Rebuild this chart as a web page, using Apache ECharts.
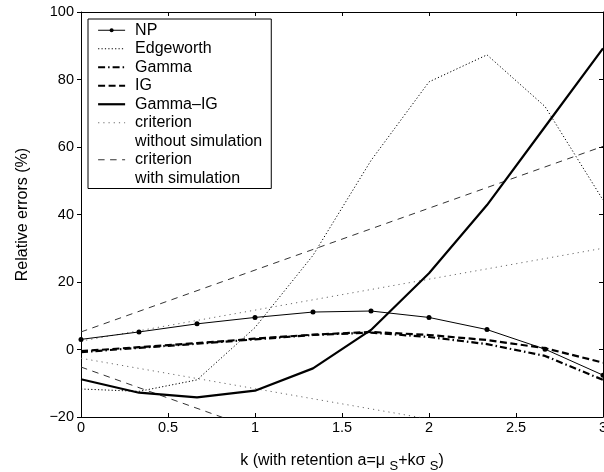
<!DOCTYPE html>
<html><head><meta charset="utf-8">
<script src="https://cdn.jsdelivr.net/npm/echarts@6/dist/echarts.min.js"></script>
<style>html,body{margin:0;padding:0;background:#fff}#c{width:604px;height:472px}</style>
</head><body><div id="c"></div>
<script>
// ---- data ----
const kValues = [0, 0.3333, 0.6667, 1, 1.3333, 1.6667, 2, 2.3333, 2.6667, 3];
const npErr = [3.0, 5.2, 7.6, 9.5, 11.1, 11.4, 9.5, 5.9, 0.1, -7.6];
const edgeworthErr = [-11.7, -12.4, -9.0, 6.5, 27.9, 56.0, 79.3, 87.3, 72.0, 44.3];
const gammaErr = [-0.8, 0.5, 1.7, 3.0, 4.3, 5.0, 3.7, 1.6, -1.9, -9.0];
const igErr = [-0.5, 0.7, 1.9, 3.2, 4.4, 5.2, 4.3, 2.8, 0.4, -3.9];
const gammaIgErr = [-8.8, -12.8, -14.2, -12.2, -5.6, 5.8, 22.6, 42.8, 66.0, 89.2];
const critK = [0, 3];
const critNoSimUpper = [2.5, 30.0];
const critNoSimLower = [-2.6, -29.6];
const critSimUpper = [5.2, 60.2];
const critSimLower = [-5.2, -60.2];
const xTickValues = [0, 0.5, 1, 1.5, 2, 2.5, 3];
const xTickLabels = ['0', '0.5', '1', '1.5', '2', '2.5', '3'];
const yTickValues = [-20, 0, 20, 40, 60, 80, 100];
const yTickLabels = ['\u221220', '0', '20', '40', '60', '80', '100'];
const legendNames = ['NP', 'Edgeworth', 'Gamma', 'IG', 'Gamma\u2013IG', 'criterion', 'without simulation', 'criterion ', 'with simulation'];

const FONT = "'Liberation Sans', Arial, Helvetica, sans-serif";
const pairs = (xs, ys) => xs.map((x, i) => [x, ys[i]]);

const chart = echarts.init(document.getElementById('c'), null, {renderer: 'canvas'});

const baseX = {
  type: 'value', min: 0, max: 3, interval: 0.5,
  axisLine: {show: true, onZero: false, lineStyle: {color: '#000', width: 1}},
  splitLine: {show: false}
};
const baseY = {
  type: 'value', min: -20, max: 100, interval: 20,
  axisLine: {show: true, onZero: false, lineStyle: {color: '#000', width: 1}},
  splitLine: {show: false}
};

const option = {
  animation: false,
  backgroundColor: '#fff',
  grid: {left: 81, right: 1, top: 12, bottom: 55, containLabel: false, outerBoundsMode: 'none', show: false},
  xAxis: [
    Object.assign({}, baseX, {
      position: 'bottom',
      axisTick: {show: true, inside: true, length: 4, lineStyle: {color: '#000'}},
      axisLabel: {show: true, margin: 3, color: '#000', fontSize: 14.5, fontFamily: FONT,
        formatter: v => { const i = xTickValues.indexOf(Math.round(v * 10) / 10); return i >= 0 ? xTickLabels[i] : ''; }},
      name: 'k (with retention a=\u03bc {sub|S}+k\u03c3 {sub|S})',
      nameLocation: 'middle', nameGap: 31,
      nameTextStyle: {fontSize: 16, fontFamily: FONT, color: '#000',
        rich: {sub: {fontSize: 13, fontFamily: FONT, color: '#000', padding: [12, 0, 0, 0]}}}
    }),
    Object.assign({}, baseX, {
      position: 'top',
      axisTick: {show: true, inside: true, length: 4, lineStyle: {color: '#000'}},
      axisLabel: {show: false}
    })
  ],
  yAxis: [
    Object.assign({}, baseY, {
      position: 'left',
      axisTick: {show: true, inside: false, length: 4, lineStyle: {color: '#000'}},
      axisLabel: {show: true, margin: 7, color: '#000', fontSize: 14.5, fontFamily: FONT,
        formatter: v => { const i = yTickValues.indexOf(Math.round(v)); return i >= 0 ? yTickLabels[i] : ''; }},
      name: 'Relative errors (%)', nameLocation: 'middle', nameGap: 50, nameRotate: 90,
      nameTextStyle: {fontSize: 16, fontFamily: FONT, color: '#000'}
    }),
    Object.assign({}, baseY, {
      position: 'right',
      axisTick: {show: true, inside: true, length: 4, lineStyle: {color: '#000'}},
      axisLabel: {show: false}
    })
  ],
  legend: {
    orient: 'vertical', left: 88, top: 19,
    padding: [2, 9, 1, 9], itemGap: 0, itemWidth: 27, itemHeight: 5,
    borderColor: '#000', borderWidth: 1, backgroundColor: '#fff',
    selectedMode: false,
    textStyle: {fontFamily: FONT, fontSize: 16, color: '#000', lineHeight: 18.5, padding: [0, 0, 0, 5]},
    data: [
      {name: legendNames[0], lineStyle: {width: 1}},
      {name: legendNames[1], lineStyle: {width: 1}, itemStyle: {opacity: 0}},
      {name: legendNames[2], lineStyle: {width: 2.2}, itemStyle: {opacity: 0}},
      {name: legendNames[3], lineStyle: {width: 2.2}, itemStyle: {opacity: 0}},
      {name: legendNames[4], lineStyle: {width: 2.2}, itemStyle: {opacity: 0}},
      {name: legendNames[5], lineStyle: {width: 1}, itemStyle: {opacity: 0}},
      {name: legendNames[6], icon: 'none'},
      {name: legendNames[7], lineStyle: {width: 1}, itemStyle: {opacity: 0}},
      {name: legendNames[8], icon: 'none'}
    ]
  },
  series: [
    {name: legendNames[5], type: 'line', data: pairs(critK, critNoSimUpper), symbol: 'none', silent: true,
      lineStyle: {color: '#6a6a6a', width: 1, type: [1.2, 4]}, itemStyle: {color: '#6a6a6a'}},
    {name: legendNames[5], type: 'line', data: pairs(critK, critNoSimLower), symbol: 'none', silent: true,
      lineStyle: {color: '#6a6a6a', width: 1, type: [1.2, 4]}, itemStyle: {color: '#6a6a6a'}},
    {name: legendNames[7], type: 'line', data: pairs(critK, critSimUpper), symbol: 'none', silent: true,
      lineStyle: {color: '#333', width: 1, type: [6.5, 5.5]}, itemStyle: {color: '#333'}},
    {name: legendNames[7], type: 'line', data: pairs(critK, critSimLower), symbol: 'none', silent: true,
      lineStyle: {color: '#333', width: 1, type: [6.5, 5.5]}, itemStyle: {color: '#333'}},
    {name: legendNames[6], type: 'line', data: [], symbol: 'none', lineStyle: {opacity: 0}},
    {name: legendNames[8], type: 'line', data: [], symbol: 'none', lineStyle: {opacity: 0}},
    {name: legendNames[1], type: 'line', data: pairs(kValues, edgeworthErr), symbol: 'none',
      lineStyle: {color: '#000', width: 1, type: [1.2, 2.2]}, itemStyle: {color: '#000'}},
    {name: legendNames[2], type: 'line', data: pairs(kValues, gammaErr), symbol: 'none',
      lineStyle: {color: '#000', width: 2.2, type: [7, 3, 1.5, 3]}, itemStyle: {color: '#000'}},
    {name: legendNames[3], type: 'line', data: pairs(kValues, igErr), symbol: 'none',
      lineStyle: {color: '#000', width: 2.2, type: [7, 3.5]}, itemStyle: {color: '#000'}},
    {name: legendNames[4], type: 'line', data: pairs(kValues, gammaIgErr), symbol: 'none',
      lineStyle: {color: '#000', width: 2.2, type: 'solid'}, itemStyle: {color: '#000'}},
    {name: legendNames[0], type: 'line', data: pairs(kValues, npErr), symbol: 'circle', symbolSize: 5, showSymbol: true,
      lineStyle: {color: '#000', width: 1}, itemStyle: {color: '#000'}}
  ]
};
chart.setOption(option);
</script>
</body></html>
